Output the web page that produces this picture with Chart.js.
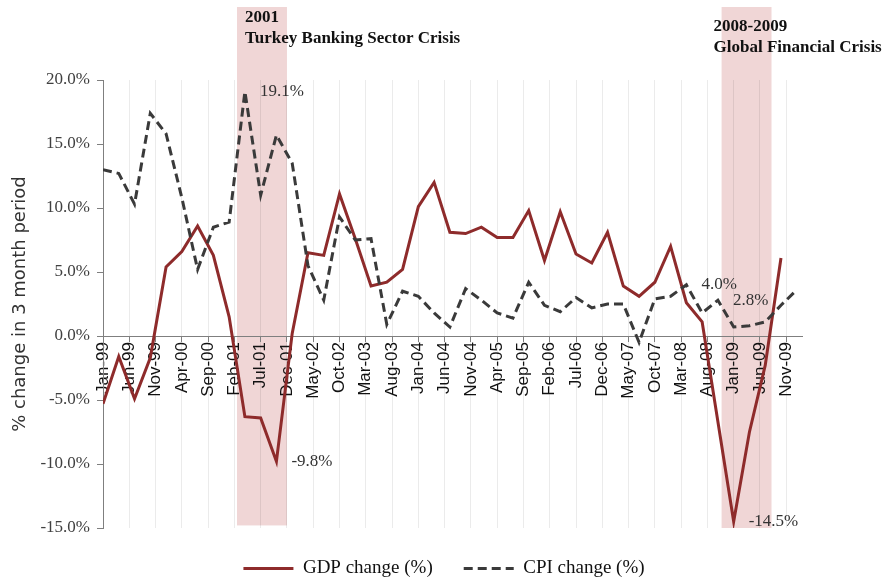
<!DOCTYPE html>
<html>
<head>
<meta charset="utf-8">
<title>GDP and CPI change</title>
<script src="https://cdn.jsdelivr.net/npm/chart.js@4.4.1/dist/chart.umd.min.js"></script>
<style>
    html, body { margin: 0; padding: 0; background: #fff; }
</style>
</head>
<body>
<canvas id="chart1" width="888" height="582"></canvas>
<script>
// quarterly observations
const quarters = [
    'Jan-99', 'Apr-99', 'Jul-99', 'Oct-99', 'Jan-00', 'Apr-00', 'Jul-00', 'Oct-00',
    'Jan-01', 'Apr-01', 'Jul-01', 'Oct-01', 'Jan-02', 'Apr-02', 'Jul-02', 'Oct-02',
    'Jan-03', 'Apr-03', 'Jul-03', 'Oct-03', 'Jan-04', 'Apr-04', 'Jul-04', 'Oct-04',
    'Jan-05', 'Apr-05', 'Jul-05', 'Oct-05', 'Jan-06', 'Apr-06', 'Jul-06', 'Oct-06',
    'Jan-07', 'Apr-07', 'Jul-07', 'Oct-07', 'Jan-08', 'Apr-08', 'Jul-08', 'Oct-08',
    'Jan-09', 'Apr-09', 'Jul-09', 'Oct-09', 'Jan-10'
];

const gdpChange = [
    -5.3, -1.6, -4.9, -1.7, 5.4, 6.6, 8.6, 6.3, 1.5, -6.3,
    -6.4, -9.8, 0.2, 6.5, 6.3, 11.1, 7.6, 3.9, 4.2, 5.2,
    10.1, 12.0, 8.1, 8.0, 8.5, 7.7, 7.7, 9.8, 5.9, 9.7,
    6.4, 5.7, 8.1, 3.9, 3.1, 4.2, 7.0, 2.6, 1.1, -6.7,
    -14.5, -7.5, -2.3, 6.1, null
];

const cpiChange = [
    13.0, 12.7, 10.3, 17.4, 15.8, 10.8, 5.2, 8.5, 8.9, 19.1,
    11.0, 15.7, 13.5, 5.5, 2.8, 9.3, 7.5, 7.6, 0.9, 3.5,
    3.1, 1.8, 0.7, 3.7, 2.8, 1.8, 1.4, 4.2, 2.4, 1.9,
    3.0, 2.2, 2.5, 2.5, -0.5, 2.9, 3.1, 4.0, 1.8, 2.8,
    0.7, 0.8, 1.1, 2.4, 3.6
];

// axis labels, one every 5 months
const xTickLabels = [
    'Jan-99', 'Jun-99', 'Nov-99', 'Apr-00', 'Sep-00', 'Feb-01', 'Jul-01', 'Dec-01', 'May-02',
    'Oct-02', 'Mar-03', 'Aug-03', 'Jan-04', 'Jun-04', 'Nov-04', 'Apr-05', 'Sep-05', 'Feb-06',
    'Jul-06', 'Dec-06', 'May-07', 'Oct-07', 'Mar-08', 'Aug-08', 'Jan-09', 'Jun-09', 'Nov-09'
];

// shaded crisis periods (months after Jan-99)
const crisisBands = [
    { lines: ['2001', 'Turkey Banking Sector Crisis'], from: 25.5, to: 35, bottom: -14.8, textShift: 8, textTop: 18 },
    { lines: ['2008-2009', 'Global Financial Crisis'], from: 117.7, to: 127.2, bottom: -15, textShift: -8, textTop: 27 }
];

// points that get a value label: [dataset index, point index]
const calloutPoints = [[1, 9], [0, 11], [1, 37], [1, 39], [0, 40]];

const MONTHS = ['Jan', 'Feb', 'Mar', 'Apr', 'May', 'Jun', 'Jul', 'Aug', 'Sep', 'Oct', 'Nov', 'Dec'];

function monthIndex(label) {
    const parts = label.split('-');
    const yy = parseInt(parts[1], 10);
    const year = yy >= 50 ? 1900 + yy : 2000 + yy;
    return (year - 1999) * 12 + MONTHS.indexOf(parts[0]);
}

function toPoints(values) {
    return values.map((v, i) => ({ x: monthIndex(quarters[i]), y: v }));
}

const crisisNotes = {
    id: 'crisisNotes',
    beforeDraw(chart) {
        const { ctx, scales } = chart;
        ctx.save();
        ctx.fillStyle = '#f0d6d6';
        crisisBands.forEach(b => {
            const left = scales.x.getPixelForValue(b.from);
            const right = scales.x.getPixelForValue(b.to);
            const bottom = scales.y.getPixelForValue(b.bottom);
            ctx.fillRect(left, 7, right - left, bottom - 7);
        });
        ctx.restore();
    },
    afterDatasetsDraw(chart) {
        const { ctx, scales } = chart;
        ctx.save();

        // band titles
        ctx.fillStyle = '#111';
        ctx.font = 'bold 17px "Liberation Serif"';
        ctx.textAlign = 'left';
        ctx.textBaseline = 'middle';
        crisisBands.forEach(b => {
            const left = scales.x.getPixelForValue(b.from) + b.textShift;
            b.lines.forEach((line, i) => {
                ctx.fillText(line, left, b.textTop + i * 21);
            });
        });

        // value labels
        ctx.fillStyle = '#333';
        ctx.font = '17px "Liberation Serif"';
        calloutPoints.forEach(([ds, idx]) => {
            const pt = chart.getDatasetMeta(ds).data[idx];
            const value = chart.data.datasets[ds].data[idx].y;
            ctx.fillText(value.toFixed(1) + '%', pt.x + 15, pt.y);
        });
        ctx.restore();
    }
};

// legend keeps dataset order and shows the dash pattern of each line
function legendLabels(chart) {
    const items = Chart.defaults.plugins.legend.labels.generateLabels(chart);
    return items
        .sort((a, b) => a.datasetIndex - b.datasetIndex)
        .map(item => {
            const ds = chart.data.datasets[item.datasetIndex];
            item.lineDash = ds.borderDash || [];
            item.strokeStyle = ds.borderColor;
            item.lineWidth = ds.borderWidth;
            return item;
        });
}

const ctx = document.getElementById('chart1').getContext('2d');
const chart1 = new Chart(ctx, {
    type: 'line',
    data: {
        datasets: [{
            label: 'GDP change (%)',
            data: toPoints(gdpChange),
            borderColor: '#8e2b2b',
            backgroundColor: '#8e2b2b',
            borderWidth: 3,
            pointRadius: 0,
            tension: 0,
            order: 1
        }, {
            label: 'CPI change (%)',
            data: toPoints(cpiChange),
            borderColor: '#3a3a3a',
            backgroundColor: '#3a3a3a',
            borderWidth: 3,
            borderDash: [9, 5],
            pointRadius: 0,
            tension: 0,
            order: 0
        }]
    },
    options: {
        responsive: false,
        animation: false,
        devicePixelRatio: 1,
        layout: {
            // legend height = font + padding + 10, so a small negative bottom keeps it low
            padding: { top: 80, left: 0, right: 0, bottom: -6 }
        },
        plugins: {
            tooltip: { enabled: false },
            legend: {
                position: 'bottom',
                labels: {
                    usePointStyle: true,
                    pointStyle: 'line',
                    pointStyleWidth: 50,
                    padding: 31,
                    color: '#111',
                    font: { family: 'Liberation Serif', size: 19 },
                    generateLabels: legendLabels
                }
            }
        },
        scales: {
            x: {
                type: 'linear',
                position: { y: 0 },
                min: 0,
                max: 133,
                ticks: {
                    stepSize: 5,
                    includeBounds: false,
                    autoSkip: false,
                    minRotation: 90,
                    maxRotation: 90,
                    padding: 1,
                    color: '#111',
                    font: { family: 'Liberation Sans', size: 17 },
                    callback: value => xTickLabels[value / 5]
                },
                grid: {
                    color: 'rgba(0,0,0,0.08)',
                    tickColor: '#7f7f7f',
                    tickLength: 5
                },
                border: { color: '#7f7f7f' }
            },
            y: {
                min: -15,
                max: 20,
                ticks: {
                    stepSize: 5,
                    padding: 7,
                    color: '#404040',
                    font: { family: 'Liberation Serif', size: 17 },
                    callback: value => value.toFixed(1) + '%'
                },
                grid: {
                    drawOnChartArea: false,
                    tickColor: '#7f7f7f',
                    tickLength: 6
                },
                border: { color: '#7f7f7f' },
                title: {
                    display: true,
                    text: '% change in 3 month period',
                    color: '#333',
                    padding: { top: 10, bottom: 0 },
                    font: { family: 'DejaVu Sans', size: 18 }
                },
                afterFit: scale => { scale.width = 103; }
            },
            // empty right-hand space so the legend centres under the whole picture
            yRight: {
                position: 'right',
                display: true,
                ticks: { display: false },
                grid: { display: false },
                border: { display: false },
                afterFit: scale => { scale.width = 86; }
            }
        }
    },
    plugins: [crisisNotes]
});
</script>
</body>
</html>
